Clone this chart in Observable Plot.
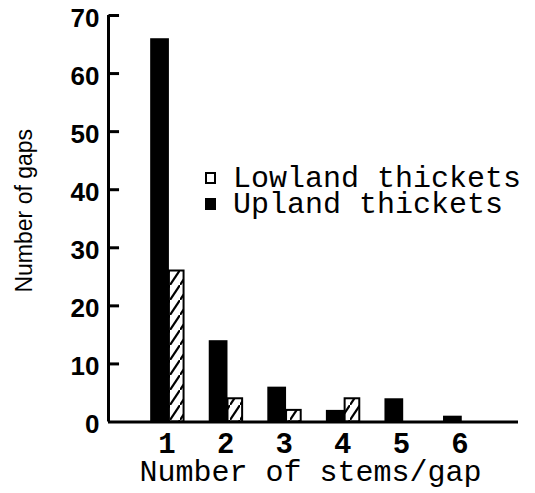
<!DOCTYPE html>
<html>
<head>
<meta charset="utf-8">
<script src="https://cdn.jsdelivr.net/npm/d3@7"></script>
<script src="https://cdn.jsdelivr.net/npm/@observablehq/plot@0.6"></script>
<style>
  body { margin: 0; background: #fff; }
  #wrap { position: relative; width: 535px; height: 493px; }
  .lg { position: absolute; font-family: "Liberation Mono", "DejaVu Sans Mono", monospace; font-size: 30px; color: #000; line-height: 26px; height: 26px; white-space: nowrap; }
  .sw { position: absolute; box-sizing: border-box; width: 11px; height: 12px; }
</style>
</head>
<body>
<div id="wrap"></div>
<script>
// ---- data ----
const stems = [1, 2, 3, 4, 5, 6];
const lowland = [26, 4, 2, 4, 0, 0];
const upland = [66, 14, 6, 2, 4, 1];
const yTicks = [0, 10, 20, 30, 40, 50, 60, 70];
const seriesNames = ["Lowland thickets", "Upland thickets"];
const xTitle = "Number of stems/gap";
const yTitle = "Number of gaps";

const upData = stems.map((s, i) => ({s, v: upland[i]})).filter(d => d.v > 0);
const lowData = stems.map((s, i) => ({s, v: lowland[i]})).filter(d => d.v > 0);
const tickData = yTicks.slice(1).map(v => ({v}));

const mono = "Liberation Mono, DejaVu Sans Mono, monospace";
const sans = "Liberation Sans, Arial, sans-serif";

const svg = Plot.plot({
  width: 535,
  height: 493,
  marginLeft: 108,
  marginRight: 17,
  marginTop: 15,
  marginBottom: 71.5,
  style: {background: "#fff", color: "#000"},
  x: {domain: [0, 7]},
  y: {domain: [0, 70]},
  marks: [
    Plot.rect(upData, {x1: d => d.s - 0.28, x2: d => d.s + 0.04, y1: 0, y2: "v", fill: "black"}),
    Plot.rect(lowData, {x1: d => d.s + 0.04, x2: d => d.s + 0.29, y1: 0, y2: "v", fill: "url(#hatch)", stroke: "black", strokeWidth: 2}),
    Plot.ruleX([0], {y1: 0, y2: 70, strokeWidth: 3}),
    Plot.ruleY([0], {x1: 0, x2: 7, strokeWidth: 3}),
    // inward tick marks on the y axis
    Plot.link(tickData, {x1: () => 0, x2: () => 0.18, y1: "v", y2: "v", strokeWidth: 3, stroke: "black"}),
    Plot.axisY({ticks: yTicks, tickSize: 0, tickPadding: 9, dy: 3, fontSize: 26, fontWeight: "bold", fontFamily: sans, label: null}),
    Plot.axisX({ticks: stems, tickSize: 0, tickPadding: 10, tickFormat: d3.format("d"), fontSize: 29, fontWeight: "bold", fontFamily: mono, label: null}),
    Plot.text([xTitle], {frameAnchor: "bottom", textAnchor: "middle", dy: 59, dx: -3, fontSize: 30, fontFamily: mono}),
    Plot.text([yTitle], {frameAnchor: "left", textAnchor: "middle", rotate: -90, dx: -84, dy: -8, fontSize: 23, fontFamily: sans})
  ]
});

// hatch pattern for lowland bars
const ns = "http://www.w3.org/2000/svg";
const defs = document.createElementNS(ns, "defs");
defs.innerHTML = `<pattern id="hatch" patternUnits="userSpaceOnUse" width="10" height="15">
  <rect width="10" height="15" fill="white"/>
  <path d="M-2,18 L12,-3" stroke="black" stroke-width="2.2"/>
</pattern>`;
svg.insertBefore(defs, svg.firstChild);

const wrap = document.getElementById("wrap");
wrap.appendChild(svg);

// legend
const rows = [
  {name: seriesNames[0], top: 166, swTop: 172, sw: "border: 2.5px solid #000; background: #fff;"},
  {name: seriesNames[1], top: 192, swTop: 198, sw: "background: #000;"}
];
for (const r of rows) {
  const sw = document.createElement("div");
  sw.className = "sw";
  sw.style.cssText = `left:205px; top:${r.swTop}px; ${r.sw}`;
  wrap.appendChild(sw);
  const t = document.createElement("div");
  t.className = "lg";
  t.style.left = "233px";
  t.style.top = r.top + "px";
  t.textContent = r.name;
  wrap.appendChild(t);
}
</script>
</body>
</html>
